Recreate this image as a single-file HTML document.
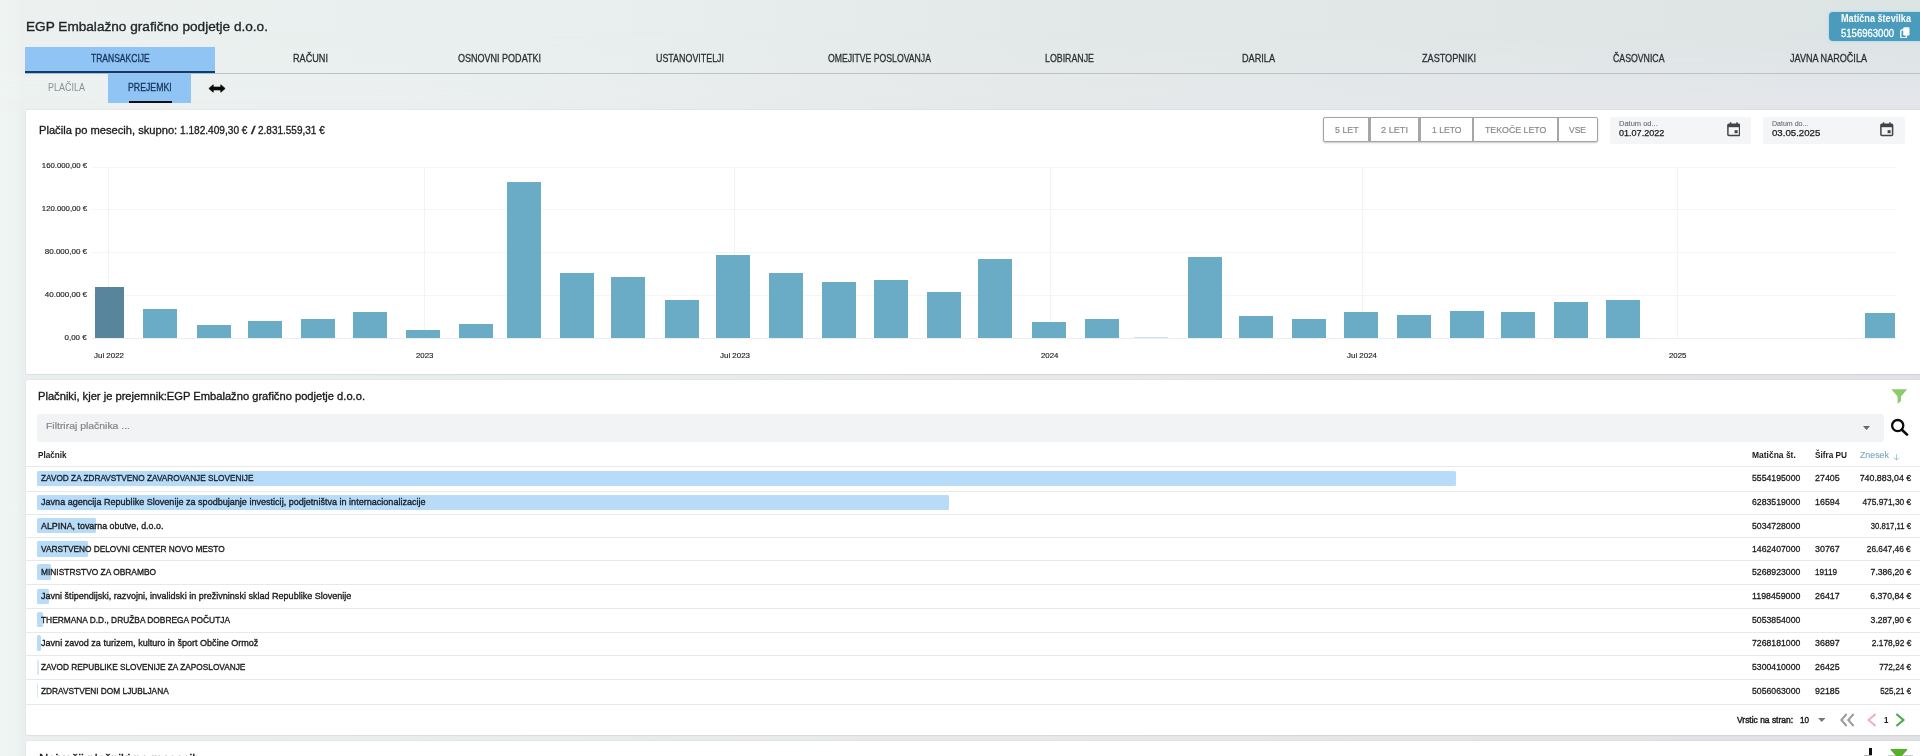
<!DOCTYPE html>
<html lang="sl"><head><meta charset="utf-8"><title>EGP Embalažno grafično podjetje d.o.o.</title>
<style>
html,body{margin:0;padding:0;}
body{width:1920px;height:756px;overflow:hidden;position:relative;font-family:'Liberation Sans', sans-serif;background:linear-gradient(90deg,#eff5f3 0px,#eef4f2 15px,#ebefef 22px,#ebeeee 300px,#e6e8e9 1100px,#e1e2e5 1920px);}
.t{position:absolute;white-space:pre;font-family:'Liberation Sans', sans-serif;}

</style></head><body>
<div style="position:absolute;left:0;top:0;width:1920px;height:112px;background:linear-gradient(90deg,#eff4f3 0px,#eef3f2 14px,#ecf1f0 20px,#e9efee 550px,#e2e8e7 1150px,#dde4e4 1920px)"></div>
<div style="position:absolute;left:0;top:0;width:1920px;height:112px;background:linear-gradient(90deg,#eff4f3 0px,#eef3f2 14px,#ecf1f0 20px,#ebefef 400px,#e6e9ea 1000px,#e3e5ea 1920px);-webkit-mask-image:linear-gradient(180deg,rgba(0,0,0,0) 30px,#000 100px);mask-image:linear-gradient(180deg,rgba(0,0,0,0) 30px,#000 100px)"></div>
<div style="position:absolute;left:1828.6px;top:11.6px;width:100px;height:29.1px;background:#4b9cbc;border-radius:4px;box-shadow:0 0 3px rgba(120,200,240,.6);"></div>
<svg style="position:absolute;left:1900px;top:26.5px" width="10" height="11.5" viewBox="0 0 10 11.5"><rect x="3.2" y="0.3" width="6.3" height="8.2" rx="1.2" fill="#fff"/><rect x="0.8" y="2.8" width="5.6" height="8" rx="1" fill="none" stroke="#fff" stroke-width="1.3"/></svg>
<div style="position:absolute;left:25.4px;top:72.6px;width:1900px;height:1.3px;background:#bcc1c4;"></div>
<div style="position:absolute;left:25.4px;top:47px;width:190px;height:26.6px;background:#90c4f4;"></div>
<div style="position:absolute;left:25.4px;top:71.3px;width:190px;height:2.2px;background:#1d3a5c;"></div>
<div style="position:absolute;left:108.2px;top:74px;width:82.8px;height:29px;background:#90c4f4;"></div>
<div style="position:absolute;left:129px;top:100.6px;width:43px;height:2.4px;background:#0d0f14;"></div>
<svg style="position:absolute;left:208.4px;top:83.9px" width="18" height="9" viewBox="0 0 18 9"><path d="M0.9 4.5 L5.2 0.8 L5.2 3.1 L12.8 3.1 L12.8 0.8 L17.1 4.5 L12.8 8.2 L12.8 5.9 L5.2 5.9 L5.2 8.2 Z" fill="#0a0a0a" stroke="#0a0a0a" stroke-width="0.8" stroke-linejoin="round"/></svg>
<div style="position:absolute;left:26px;top:109.5px;width:1910px;height:264px;background:#fff;box-shadow:0 0 2px rgba(0,0,0,.10),0 1px 1px rgba(0,0,0,.04);border-radius:2px;"></div>
<div style="position:absolute;left:1322.5px;top:117px;width:275px;height:25px;background:#fff;box-sizing:border-box;border:1.3px solid #a3a3a3;border-radius:2px;box-shadow:0 1px 2px rgba(0,0,0,.22);"></div>
<div style="position:absolute;left:1368.4px;top:117px;width:2.2px;height:25px;background:#a6a6a6;"></div>
<div style="position:absolute;left:1418.4px;top:117px;width:2.2px;height:25px;background:#a6a6a6;"></div>
<div style="position:absolute;left:1471.7px;top:117px;width:2.2px;height:25px;background:#a6a6a6;"></div>
<div style="position:absolute;left:1557.2px;top:117px;width:2.2px;height:25px;background:#a6a6a6;"></div>
<div style="position:absolute;left:1610.3px;top:116.7px;width:140.9000000000001px;height:27.5px;background:#f4f5f6;border-radius:2px;"></div>
<svg style="position:absolute;left:1726.7px;top:122px" width="13.5" height="14.5" viewBox="0 0 13.5 14.5"><rect x="0.9" y="2.2" width="11.7" height="11.4" rx="1" fill="none" stroke="#444" stroke-width="1.5"/><rect x="0.9" y="2.2" width="11.7" height="3" fill="#444"/><rect x="2.8" y="0.3" width="1.5" height="2.5" fill="#444"/><rect x="9.2" y="0.3" width="1.5" height="2.5" fill="#444"/><rect x="7.6" y="8.2" width="3" height="3" fill="#444"/></svg>
<div style="position:absolute;left:1762.5px;top:116.7px;width:142.5px;height:27.5px;background:#f4f5f6;border-radius:2px;"></div>
<svg style="position:absolute;left:1880px;top:122px" width="13.5" height="14.5" viewBox="0 0 13.5 14.5"><rect x="0.9" y="2.2" width="11.7" height="11.4" rx="1" fill="none" stroke="#444" stroke-width="1.5"/><rect x="0.9" y="2.2" width="11.7" height="3" fill="#444"/><rect x="2.8" y="0.3" width="1.5" height="2.5" fill="#444"/><rect x="9.2" y="0.3" width="1.5" height="2.5" fill="#444"/><rect x="7.6" y="8.2" width="3" height="3" fill="#444"/></svg>
<div style="position:absolute;left:92px;top:166.5px;width:1805px;height:1px;background:#f4f5f8;"></div>
<div style="position:absolute;left:92px;top:208.5px;width:1805px;height:1px;background:#f4f5f8;"></div>
<div style="position:absolute;left:92px;top:251.5px;width:1805px;height:1px;background:#f4f5f8;"></div>
<div style="position:absolute;left:92px;top:294.5px;width:1805px;height:1px;background:#f4f5f8;"></div>
<div style="position:absolute;left:92px;top:337.5px;width:1805px;height:1px;background:#ebedf0;"></div>
<div style="position:absolute;left:107.5px;top:166.6px;width:1px;height:172px;background:#f2f3f7;"></div>
<div style="position:absolute;left:423.5px;top:166.6px;width:1px;height:172px;background:#f2f3f7;"></div>
<div style="position:absolute;left:733.5px;top:166.6px;width:1px;height:172px;background:#f2f3f7;"></div>
<div style="position:absolute;left:1049.5px;top:166.6px;width:1px;height:172px;background:#f2f3f7;"></div>
<div style="position:absolute;left:1361.5px;top:166.6px;width:1px;height:172px;background:#f2f3f7;"></div>
<div style="position:absolute;left:1676.5px;top:166.6px;width:1px;height:172px;background:#f2f3f7;"></div>
<div style="position:absolute;left:95px;top:287.4px;width:29.2px;height:50.8px;background:#58849c;"></div>
<div style="position:absolute;left:143.3px;top:308.7px;width:34.0px;height:29.5px;background:#6aabc5;"></div>
<div style="position:absolute;left:196.5px;top:324.7px;width:34.0px;height:13.5px;background:#6aabc5;"></div>
<div style="position:absolute;left:247.9px;top:320.6px;width:34.0px;height:17.6px;background:#6aabc5;"></div>
<div style="position:absolute;left:301.1px;top:318.9px;width:34.0px;height:19.3px;background:#6aabc5;"></div>
<div style="position:absolute;left:352.5px;top:311.9px;width:34.0px;height:26.3px;background:#6aabc5;"></div>
<div style="position:absolute;left:405.7px;top:329.6px;width:34.0px;height:8.6px;background:#6aabc5;"></div>
<div style="position:absolute;left:458.8px;top:324.1px;width:34.0px;height:14.1px;background:#6aabc5;"></div>
<div style="position:absolute;left:506.8px;top:182px;width:34.0px;height:156.2px;background:#6aabc5;"></div>
<div style="position:absolute;left:560.0px;top:272.9px;width:34.0px;height:65.3px;background:#6aabc5;"></div>
<div style="position:absolute;left:611.4px;top:277.2px;width:34.0px;height:61.0px;background:#6aabc5;"></div>
<div style="position:absolute;left:664.6px;top:300px;width:34.0px;height:38.2px;background:#6aabc5;"></div>
<div style="position:absolute;left:716.0px;top:254.8px;width:34.0px;height:83.4px;background:#6aabc5;"></div>
<div style="position:absolute;left:769.1px;top:273.1px;width:34.0px;height:65.1px;background:#6aabc5;"></div>
<div style="position:absolute;left:822.3px;top:282.2px;width:34.0px;height:56.0px;background:#6aabc5;"></div>
<div style="position:absolute;left:873.7px;top:280.1px;width:34.0px;height:58.1px;background:#6aabc5;"></div>
<div style="position:absolute;left:926.9px;top:291.8px;width:34.0px;height:46.4px;background:#6aabc5;"></div>
<div style="position:absolute;left:978.3px;top:258.9px;width:34.0px;height:79.3px;background:#6aabc5;"></div>
<div style="position:absolute;left:1031.5px;top:321.8px;width:34.0px;height:16.4px;background:#6aabc5;"></div>
<div style="position:absolute;left:1084.6px;top:319.1px;width:34.0px;height:19.1px;background:#6aabc5;"></div>
<div style="position:absolute;left:1134.3px;top:337.4px;width:34.0px;height:0.8px;background:#cfe3ec;"></div>
<div style="position:absolute;left:1187.5px;top:257.1px;width:34.0px;height:81.1px;background:#6aabc5;"></div>
<div style="position:absolute;left:1238.9px;top:316.2px;width:34.0px;height:22.0px;background:#6aabc5;"></div>
<div style="position:absolute;left:1292.1px;top:318.6px;width:34.0px;height:19.6px;background:#6aabc5;"></div>
<div style="position:absolute;left:1343.5px;top:312.2px;width:34.0px;height:26.0px;background:#6aabc5;"></div>
<div style="position:absolute;left:1396.6px;top:315.1px;width:34.0px;height:23.1px;background:#6aabc5;"></div>
<div style="position:absolute;left:1449.8px;top:311.2px;width:34.0px;height:27.0px;background:#6aabc5;"></div>
<div style="position:absolute;left:1501.2px;top:311.8px;width:34.0px;height:26.4px;background:#6aabc5;"></div>
<div style="position:absolute;left:1554.4px;top:302.2px;width:34.0px;height:36.0px;background:#6aabc5;"></div>
<div style="position:absolute;left:1605.8px;top:299.9px;width:34.0px;height:38.3px;background:#6aabc5;"></div>
<div style="position:absolute;left:1864.7px;top:313px;width:30.6px;height:25.2px;background:#6aabc5;"></div>
<div style="position:absolute;left:26px;top:380px;width:1910px;height:355.3px;background:#fff;box-shadow:0 0 2px rgba(0,0,0,.10),0 1px 1px rgba(0,0,0,.04);border-radius:2px;"></div>
<svg style="position:absolute;left:1891px;top:388.8px" width="16.5" height="15" viewBox="0 0 16.5 15"><path d="M0.3 0.3 H16.2 L10 7.6 V12 L6.6 14.8 V7.6 Z" fill="#8ccc68"/></svg>
<div style="position:absolute;left:37px;top:414px;width:1847px;height:27.7px;background:#f2f3f5;border-radius:3px;"></div>
<svg style="position:absolute;left:1862.5px;top:425.5px" width="7" height="4" viewBox="0 0 7 4"><path d="M0 0H7L3.5 4Z" fill="#666"/></svg>
<svg style="position:absolute;left:1890px;top:417.8px" width="19" height="18" viewBox="0 0 19 18"><circle cx="7.7" cy="7.6" r="5.6" fill="none" stroke="#0a0a0a" stroke-width="2.3"/><path d="M11.9 11.8 L17 16.6" stroke="#0a0a0a" stroke-width="2.6" stroke-linecap="round"/></svg>
<svg style="position:absolute;left:1892.5px;top:454px" width="7" height="7" viewBox="0 0 7 7"><path d="M3.5 0.3V6M0.8 3.5L3.5 6.1L6.2 3.5" fill="none" stroke="#a3c6d8" stroke-width="1"/></svg>
<div style="position:absolute;left:26px;top:466px;width:1900px;height:1px;background:#e6e8eb;"></div>
<div style="position:absolute;left:26px;top:491px;width:1900px;height:1px;background:#e6e8eb;"></div>
<div style="position:absolute;left:26px;top:514px;width:1900px;height:1px;background:#e6e8eb;"></div>
<div style="position:absolute;left:26px;top:537px;width:1900px;height:1px;background:#e6e8eb;"></div>
<div style="position:absolute;left:26px;top:560px;width:1900px;height:1px;background:#e6e8eb;"></div>
<div style="position:absolute;left:26px;top:584px;width:1900px;height:1px;background:#e6e8eb;"></div>
<div style="position:absolute;left:26px;top:608px;width:1900px;height:1px;background:#e6e8eb;"></div>
<div style="position:absolute;left:26px;top:632px;width:1900px;height:1px;background:#e6e8eb;"></div>
<div style="position:absolute;left:26px;top:655px;width:1900px;height:1px;background:#e6e8eb;"></div>
<div style="position:absolute;left:26px;top:679px;width:1900px;height:1px;background:#e6e8eb;"></div>
<div style="position:absolute;left:26px;top:704px;width:1900px;height:1px;background:#e6e8eb;"></div>
<div style="position:absolute;left:37.2px;top:470.7px;width:1419.0px;height:15.4px;background:#b8dbf8;border-radius:1.5px;"></div>
<div style="position:absolute;left:37.2px;top:494.5px;width:911.6px;height:15.4px;background:#b8dbf8;border-radius:1.5px;"></div>
<div style="position:absolute;left:37.2px;top:517.9px;width:59.0px;height:15.4px;background:#b8dbf8;border-radius:1.5px;"></div>
<div style="position:absolute;left:37.2px;top:541.3px;width:51.0px;height:15.4px;background:#b8dbf8;border-radius:1.5px;"></div>
<div style="position:absolute;left:37.2px;top:564.1999999999999px;width:14.1px;height:15.4px;background:#b8dbf8;border-radius:1.5px;"></div>
<div style="position:absolute;left:37.2px;top:588.5px;width:12.2px;height:15.4px;background:#b8dbf8;border-radius:1.5px;"></div>
<div style="position:absolute;left:37.2px;top:612.0999999999999px;width:6.3px;height:15.4px;background:#b8dbf8;border-radius:1.5px;"></div>
<div style="position:absolute;left:37.2px;top:635.4px;width:4.2px;height:15.4px;background:#b8dbf8;border-radius:1.5px;"></div>
<div style="position:absolute;left:37.2px;top:659.6999999999999px;width:1.5px;height:15.4px;background:#d5e9f9;border-radius:1.5px;"></div>
<div style="position:absolute;left:37.2px;top:682.9px;width:1.2px;height:15.4px;background:#d5e9f9;border-radius:1.5px;"></div>
<svg style="position:absolute;left:1817.5px;top:717.8px" width="7.5" height="4" viewBox="0 0 7.5 4"><path d="M0 0H7.5L3.75 4Z" fill="#777"/></svg>
<svg style="position:absolute;left:1839.6px;top:713px" width="15" height="14" viewBox="0 0 15 14"><path d="M6.6 1L1.3 7L6.6 13M13.6 1L8.3 7L13.6 13" fill="none" stroke="#9c9c9c" stroke-width="2"/></svg>
<svg style="position:absolute;left:1867px;top:713px" width="10" height="14" viewBox="0 0 10 14"><path d="M8.6 1L1.6 7L8.6 13" fill="none" stroke="#f2adb6" stroke-width="1.9"/></svg>
<svg style="position:absolute;left:1895.4px;top:713px" width="10" height="14" viewBox="0 0 10 14"><path d="M1.4 1L8.4 7L1.4 13" fill="none" stroke="#4aa84a" stroke-width="2.1"/></svg>
<div style="position:absolute;left:26px;top:741.3px;width:1910px;height:40px;background:#fff;box-shadow:0 0 2px rgba(0,0,0,.10),0 1px 1px rgba(0,0,0,.04);border-radius:2px;"></div>
<div style="position:absolute;left:1869.2px;top:748.1px;width:2.7px;height:8px;background:#111;"></div>
<div style="position:absolute;left:1864px;top:754.5px;width:8px;height:1.5px;background:#b4b4b4;"></div>
<div style="position:absolute;left:1887.5px;top:754.6px;width:25px;height:1.4px;background:#c8cbc8;"></div>
<svg style="position:absolute;left:1890.4px;top:749.3px" width="17.8" height="16" viewBox="0 0 17.8 16"><path d="M1.2 0 H16.6 Q17.8 0 17.2 1 L10.8 8 V13 L7 15.8 V8 L0.6 1 Q0 0 1.2 0 Z" fill="#55b02a"/></svg>
<span class="t" style="font-size:13.4px;line-height:15.397px;color:#1f2326;top:19.00px;-webkit-text-stroke:0.35px #1f2326;left:25.70px;transform-origin:0 0;transform:scaleX(1.0169);">EGP Embalažno grafično podjetje d.o.o.</span>
<span class="t" style="font-size:10.2px;line-height:11.72px;color:#fff;top:13.00px;font-weight:bold;left:1841.00px;transform-origin:0 0;transform:scaleX(0.8956);">Matična številka</span>
<span class="t" style="font-size:10.2px;line-height:11.72px;color:#fff;top:28.00px;-webkit-text-stroke:0.3px #fff;left:1841.00px;transform-origin:0 0;transform:scaleX(0.9352);">5156963000</span>
<span class="t" style="font-size:11.8px;line-height:13.558px;color:#16325a;top:52.00px;-webkit-text-stroke:0.35px #16325a;left:90.95px;transform-origin:0 0;transform:scaleX(0.7220);">TRANSAKCIJE</span>
<span class="t" style="font-size:11.8px;line-height:13.558px;color:#2a2e31;top:52.00px;-webkit-text-stroke:0.3px #2a2e31;left:292.55px;transform-origin:0 0;transform:scaleX(0.7737);">RAČUNI</span>
<span class="t" style="font-size:11.8px;line-height:13.558px;color:#2a2e31;top:52.00px;-webkit-text-stroke:0.3px #2a2e31;left:458.30px;transform-origin:0 0;transform:scaleX(0.7643);">OSNOVNI PODATKI</span>
<span class="t" style="font-size:11.8px;line-height:13.558px;color:#2a2e31;top:52.00px;-webkit-text-stroke:0.3px #2a2e31;left:655.55px;transform-origin:0 0;transform:scaleX(0.7535);">USTANOVITELJI</span>
<span class="t" style="font-size:11.8px;line-height:13.558px;color:#2a2e31;top:52.00px;-webkit-text-stroke:0.3px #2a2e31;left:827.80px;transform-origin:0 0;transform:scaleX(0.7353);">OMEJITVE POSLOVANJA</span>
<span class="t" style="font-size:11.8px;line-height:13.558px;color:#2a2e31;top:52.00px;-webkit-text-stroke:0.3px #2a2e31;left:1044.55px;transform-origin:0 0;transform:scaleX(0.7474);">LOBIRANJE</span>
<span class="t" style="font-size:11.8px;line-height:13.558px;color:#2a2e31;top:52.00px;-webkit-text-stroke:0.3px #2a2e31;left:1242.30px;transform-origin:0 0;transform:scaleX(0.7742);">DARILA</span>
<span class="t" style="font-size:11.8px;line-height:13.558px;color:#2a2e31;top:52.00px;-webkit-text-stroke:0.3px #2a2e31;left:1421.55px;transform-origin:0 0;transform:scaleX(0.7721);">ZASTOPNIKI</span>
<span class="t" style="font-size:11.8px;line-height:13.558px;color:#2a2e31;top:52.00px;-webkit-text-stroke:0.3px #2a2e31;left:1612.55px;transform-origin:0 0;transform:scaleX(0.7410);">ČASOVNICA</span>
<span class="t" style="font-size:11.8px;line-height:13.558px;color:#2a2e31;top:52.00px;-webkit-text-stroke:0.3px #2a2e31;left:1789.55px;transform-origin:0 0;transform:scaleX(0.7693);">JAVNA NAROČILA</span>
<span class="t" style="font-size:10.3px;line-height:11.835px;color:#8b9196;top:82.00px;left:48.40px;transform-origin:0 0;transform:scaleX(0.8735);">PLAČILA</span>
<span class="t" style="font-size:10.3px;line-height:11.835px;color:#16325a;top:82.00px;-webkit-text-stroke:0.3px #16325a;left:128.30px;transform-origin:0 0;transform:scaleX(0.8485);">PREJEMKI</span>
<span class="t" style="font-size:10.3px;line-height:11.835px;color:#1a1a1a;top:125.00px;-webkit-text-stroke:0.3px #1a1a1a;left:38.80px;transform-origin:0 0;transform:scaleX(1.0827);">Plačila po mesecih, skupno:</span>
<span class="t" style="font-size:10.3px;line-height:11.835px;color:#1a1a1a;top:125.00px;-webkit-text-stroke:0.3px #1a1a1a;left:180.00px;transform-origin:0 0;transform:scaleX(0.9823);">1.182.409,30 €</span>
<span class="t" style="font-size:10.3px;line-height:11.835px;color:#1a1a1a;top:125.00px;-webkit-text-stroke:0.3px #1a1a1a;left:251.30px;transform-origin:0 0;transform:scaleX(1.5652);">/</span>
<span class="t" style="font-size:10.3px;line-height:11.835px;color:#1a1a1a;top:125.00px;-webkit-text-stroke:0.3px #1a1a1a;left:258.30px;transform-origin:0 0;transform:scaleX(0.9706);">2.831.559,31 €</span>
<span class="t" style="font-size:9.8px;line-height:11.26px;color:#8a8a8a;top:124.00px;-webkit-text-stroke:0.2px #8a8a8a;left:1334.70px;transform-origin:0 0;transform:scaleX(0.9028);">5 LET</span>
<span class="t" style="font-size:9.8px;line-height:11.26px;color:#8a8a8a;top:124.00px;-webkit-text-stroke:0.2px #8a8a8a;left:1381.30px;transform-origin:0 0;transform:scaleX(0.9351);">2 LETI</span>
<span class="t" style="font-size:9.8px;line-height:11.26px;color:#8a8a8a;top:124.00px;-webkit-text-stroke:0.2px #8a8a8a;left:1431.70px;transform-origin:0 0;transform:scaleX(0.8781);">1 LETO</span>
<span class="t" style="font-size:9.8px;line-height:11.26px;color:#8a8a8a;top:124.00px;-webkit-text-stroke:0.2px #8a8a8a;left:1485.00px;transform-origin:0 0;transform:scaleX(0.8959);">TEKOČE LETO</span>
<span class="t" style="font-size:9.8px;line-height:11.26px;color:#8a8a8a;top:124.00px;-webkit-text-stroke:0.2px #8a8a8a;left:1568.80px;transform-origin:0 0;transform:scaleX(0.8669);">VSE</span>
<span class="t" style="font-size:7.2px;line-height:8.273px;color:#6a6a6a;top:120.00px;-webkit-text-stroke:0.1px #6a6a6a;left:1618.90px;transform-origin:0 0;transform:scaleX(1.0442);">Datum od...</span>
<span class="t" style="font-size:9.2px;line-height:10.571px;color:#1a1a1a;top:128.00px;-webkit-text-stroke:0.25px #1a1a1a;left:1618.50px;transform-origin:0 0;transform:scaleX(0.9851);">01.07.2022</span>
<span class="t" style="font-size:7.2px;line-height:8.273px;color:#6a6a6a;top:120.00px;-webkit-text-stroke:0.1px #6a6a6a;left:1771.80px;transform-origin:0 0;transform:scaleX(0.9770);">Datum do...</span>
<span class="t" style="font-size:9.2px;line-height:10.571px;color:#1a1a1a;top:128.00px;-webkit-text-stroke:0.25px #1a1a1a;left:1771.60px;transform-origin:0 0;transform:scaleX(1.0504);">03.05.2025</span>
<span class="t" style="font-size:7.4px;line-height:8.503px;color:#222;top:162.00px;-webkit-text-stroke:0.15px #222;right:1833.00px;transform-origin:100% 0;transform:scaleX(1.0497);">160.000,00 €</span>
<span class="t" style="font-size:7.4px;line-height:8.503px;color:#222;top:205.00px;-webkit-text-stroke:0.15px #222;right:1833.00px;transform-origin:100% 0;transform:scaleX(1.0497);">120.000,00 €</span>
<span class="t" style="font-size:7.4px;line-height:8.503px;color:#222;top:248.00px;-webkit-text-stroke:0.15px #222;right:1833.00px;transform-origin:100% 0;transform:scaleX(1.0833);">80.000,00 €</span>
<span class="t" style="font-size:7.4px;line-height:8.503px;color:#222;top:291.00px;-webkit-text-stroke:0.15px #222;right:1833.00px;transform-origin:100% 0;transform:scaleX(1.0833);">40.000,00 €</span>
<span class="t" style="font-size:7.4px;line-height:8.503px;color:#222;top:334.00px;-webkit-text-stroke:0.15px #222;right:1833.00px;transform-origin:100% 0;transform:scaleX(1.0699);">0,00 €</span>
<span class="t" style="font-size:7.6px;line-height:8.732px;color:#222;top:352.00px;-webkit-text-stroke:0.15px #222;left:93.90px;transform-origin:0 0;transform:scaleX(1.0446);">Jul 2022</span>
<span class="t" style="font-size:7.6px;line-height:8.732px;color:#222;top:352.00px;-webkit-text-stroke:0.15px #222;left:415.62px;transform-origin:0 0;transform:scaleX(1.0351);">2023</span>
<span class="t" style="font-size:7.6px;line-height:8.732px;color:#222;top:352.00px;-webkit-text-stroke:0.15px #222;left:719.69px;transform-origin:0 0;transform:scaleX(1.0446);">Jul 2023</span>
<span class="t" style="font-size:7.6px;line-height:8.732px;color:#222;top:352.00px;-webkit-text-stroke:0.15px #222;left:1041.41px;transform-origin:0 0;transform:scaleX(1.0351);">2024</span>
<span class="t" style="font-size:7.6px;line-height:8.732px;color:#222;top:352.00px;-webkit-text-stroke:0.15px #222;left:1347.20px;transform-origin:0 0;transform:scaleX(1.0446);">Jul 2024</span>
<span class="t" style="font-size:7.6px;line-height:8.732px;color:#222;top:352.00px;-webkit-text-stroke:0.15px #222;left:1668.92px;transform-origin:0 0;transform:scaleX(1.0351);">2025</span>
<span class="t" style="font-size:11.8px;line-height:13.558px;color:#1a1a1a;top:390.00px;-webkit-text-stroke:0.35px #1a1a1a;left:38.00px;transform-origin:0 0;transform:scaleX(0.9450);">Plačniki, kjer je prejemnik:EGP Embalažno grafično podjetje d.o.o.</span>
<span class="t" style="font-size:9.8px;line-height:11.26px;color:#868686;top:420.00px;-webkit-text-stroke:0.2px #868686;left:46.30px;transform-origin:0 0;transform:scaleX(1.0639);">Filtriraj plačnika ...</span>
<span class="t" style="font-size:8.6px;line-height:9.881px;color:#1a1a1a;top:451.00px;font-weight:bold;left:38.00px;transform-origin:0 0;transform:scaleX(0.9465);">Plačnik</span>
<span class="t" style="font-size:8.6px;line-height:9.881px;color:#1a1a1a;top:451.00px;font-weight:bold;left:1752.20px;transform-origin:0 0;transform:scaleX(0.9860);">Matična št.</span>
<span class="t" style="font-size:8.6px;line-height:9.881px;color:#1a1a1a;top:451.00px;font-weight:bold;left:1815.30px;transform-origin:0 0;transform:scaleX(0.9570);">Šifra PU</span>
<span class="t" style="font-size:8.6px;line-height:9.881px;color:#83a9c2;top:451.00px;-webkit-text-stroke:0.15px #83a9c2;left:1859.50px;transform-origin:0 0;transform:scaleX(1.0217);">Znesek</span>
<span class="t" style="font-size:9.7px;line-height:11.145px;color:#14202c;top:472.00px;-webkit-text-stroke:0.35px #14202c;left:41.30px;transform-origin:0 0;transform:scaleX(0.8516);">ZAVOD ZA ZDRAVSTVENO ZAVAROVANJE SLOVENIJE</span>
<span class="t" style="font-size:9.8px;line-height:11.26px;color:#1a1a1a;top:472.00px;-webkit-text-stroke:0.3px #1a1a1a;left:1752.20px;transform-origin:0 0;transform:scaleX(0.8862);">5554195000</span>
<span class="t" style="font-size:9.8px;line-height:11.26px;color:#1a1a1a;top:472.00px;-webkit-text-stroke:0.3px #1a1a1a;left:1815.30px;transform-origin:0 0;transform:scaleX(0.9064);">27405</span>
<span class="t" style="font-size:9.8px;line-height:11.26px;color:#1a1a1a;top:472.00px;-webkit-text-stroke:0.3px #1a1a1a;right:9.00px;transform-origin:100% 0;transform:scaleX(0.9003);">740.883,04 €</span>
<span class="t" style="font-size:9.7px;line-height:11.145px;color:#14202c;top:496.00px;-webkit-text-stroke:0.35px #14202c;left:41.30px;transform-origin:0 0;transform:scaleX(0.9348);">Javna agencija Republike Slovenije za spodbujanje investicij, podjetništva in internacionalizacije</span>
<span class="t" style="font-size:9.8px;line-height:11.26px;color:#1a1a1a;top:496.00px;-webkit-text-stroke:0.3px #1a1a1a;left:1752.20px;transform-origin:0 0;transform:scaleX(0.8862);">6283519000</span>
<span class="t" style="font-size:9.8px;line-height:11.26px;color:#1a1a1a;top:496.00px;-webkit-text-stroke:0.3px #1a1a1a;left:1815.30px;transform-origin:0 0;transform:scaleX(0.9064);">16594</span>
<span class="t" style="font-size:9.8px;line-height:11.26px;color:#1a1a1a;top:496.00px;-webkit-text-stroke:0.3px #1a1a1a;right:9.00px;transform-origin:100% 0;transform:scaleX(0.8531);">475.971,30 €</span>
<span class="t" style="font-size:9.7px;line-height:11.145px;color:#1a1a1a;top:520.00px;-webkit-text-stroke:0.35px #1a1a1a;left:41.30px;transform-origin:0 0;transform:scaleX(0.9164);">ALPINA, tovarna obutve, d.o.o.</span>
<span class="t" style="font-size:9.8px;line-height:11.26px;color:#1a1a1a;top:520.00px;-webkit-text-stroke:0.3px #1a1a1a;left:1752.20px;transform-origin:0 0;transform:scaleX(0.8862);">5034728000</span>
<span class="t" style="font-size:9.8px;line-height:11.26px;color:#1a1a1a;top:520.00px;-webkit-text-stroke:0.3px #1a1a1a;right:9.00px;transform-origin:100% 0;transform:scaleX(0.7897);">30.817,11 €</span>
<span class="t" style="font-size:9.7px;line-height:11.145px;color:#1a1a1a;top:543.00px;-webkit-text-stroke:0.35px #1a1a1a;left:41.30px;transform-origin:0 0;transform:scaleX(0.8545);">VARSTVENO DELOVNI CENTER NOVO MESTO</span>
<span class="t" style="font-size:9.8px;line-height:11.26px;color:#1a1a1a;top:543.00px;-webkit-text-stroke:0.3px #1a1a1a;left:1752.20px;transform-origin:0 0;transform:scaleX(0.8862);">1462407000</span>
<span class="t" style="font-size:9.8px;line-height:11.26px;color:#1a1a1a;top:543.00px;-webkit-text-stroke:0.3px #1a1a1a;left:1815.30px;transform-origin:0 0;transform:scaleX(0.9064);">30767</span>
<span class="t" style="font-size:9.8px;line-height:11.26px;color:#1a1a1a;top:543.00px;-webkit-text-stroke:0.3px #1a1a1a;right:9.00px;transform-origin:100% 0;transform:scaleX(0.8500);">26.647,46 €</span>
<span class="t" style="font-size:9.7px;line-height:11.145px;color:#1a1a1a;top:566.00px;-webkit-text-stroke:0.35px #1a1a1a;left:41.30px;transform-origin:0 0;transform:scaleX(0.8650);">MINISTRSTVO ZA OBRAMBO</span>
<span class="t" style="font-size:9.8px;line-height:11.26px;color:#1a1a1a;top:566.00px;-webkit-text-stroke:0.3px #1a1a1a;left:1752.20px;transform-origin:0 0;transform:scaleX(0.8862);">5268923000</span>
<span class="t" style="font-size:9.8px;line-height:11.26px;color:#1a1a1a;top:566.00px;-webkit-text-stroke:0.3px #1a1a1a;left:1815.30px;transform-origin:0 0;transform:scaleX(0.8297);">19119</span>
<span class="t" style="font-size:9.8px;line-height:11.26px;color:#1a1a1a;top:566.00px;-webkit-text-stroke:0.3px #1a1a1a;right:9.00px;transform-origin:100% 0;transform:scaleX(0.8788);">7.386,20 €</span>
<span class="t" style="font-size:9.7px;line-height:11.145px;color:#1a1a1a;top:590.00px;-webkit-text-stroke:0.35px #1a1a1a;left:41.30px;transform-origin:0 0;transform:scaleX(0.9328);">Javni štipendijski, razvojni, invalidski in preživninski sklad Republike Slovenije</span>
<span class="t" style="font-size:9.8px;line-height:11.26px;color:#1a1a1a;top:590.00px;-webkit-text-stroke:0.3px #1a1a1a;left:1752.20px;transform-origin:0 0;transform:scaleX(0.8983);">1198459000</span>
<span class="t" style="font-size:9.8px;line-height:11.26px;color:#1a1a1a;top:590.00px;-webkit-text-stroke:0.3px #1a1a1a;left:1815.30px;transform-origin:0 0;transform:scaleX(0.9064);">26417</span>
<span class="t" style="font-size:9.8px;line-height:11.26px;color:#1a1a1a;top:590.00px;-webkit-text-stroke:0.3px #1a1a1a;right:9.00px;transform-origin:100% 0;transform:scaleX(0.8853);">6.370,84 €</span>
<span class="t" style="font-size:9.7px;line-height:11.145px;color:#1a1a1a;top:614.00px;-webkit-text-stroke:0.35px #1a1a1a;left:41.30px;transform-origin:0 0;transform:scaleX(0.8627);">THERMANA D.D., DRUŽBA DOBREGA POČUTJA</span>
<span class="t" style="font-size:9.8px;line-height:11.26px;color:#1a1a1a;top:614.00px;-webkit-text-stroke:0.3px #1a1a1a;left:1752.20px;transform-origin:0 0;transform:scaleX(0.8862);">5053854000</span>
<span class="t" style="font-size:9.8px;line-height:11.26px;color:#1a1a1a;top:614.00px;-webkit-text-stroke:0.3px #1a1a1a;right:9.00px;transform-origin:100% 0;transform:scaleX(0.8788);">3.287,90 €</span>
<span class="t" style="font-size:9.7px;line-height:11.145px;color:#1a1a1a;top:637.00px;-webkit-text-stroke:0.35px #1a1a1a;left:41.30px;transform-origin:0 0;transform:scaleX(0.9347);">Javni zavod za turizem, kulturo in šport Občine Ormož</span>
<span class="t" style="font-size:9.8px;line-height:11.26px;color:#1a1a1a;top:637.00px;-webkit-text-stroke:0.3px #1a1a1a;left:1752.20px;transform-origin:0 0;transform:scaleX(0.8862);">7268181000</span>
<span class="t" style="font-size:9.8px;line-height:11.26px;color:#1a1a1a;top:637.00px;-webkit-text-stroke:0.3px #1a1a1a;left:1815.30px;transform-origin:0 0;transform:scaleX(0.9064);">36897</span>
<span class="t" style="font-size:9.8px;line-height:11.26px;color:#1a1a1a;top:637.00px;-webkit-text-stroke:0.3px #1a1a1a;right:9.00px;transform-origin:100% 0;transform:scaleX(0.8529);">2.178,92 €</span>
<span class="t" style="font-size:9.7px;line-height:11.145px;color:#1a1a1a;top:661.00px;-webkit-text-stroke:0.35px #1a1a1a;left:41.30px;transform-origin:0 0;transform:scaleX(0.8544);">ZAVOD REPUBLIKE SLOVENIJE ZA ZAPOSLOVANJE</span>
<span class="t" style="font-size:9.8px;line-height:11.26px;color:#1a1a1a;top:661.00px;-webkit-text-stroke:0.3px #1a1a1a;left:1752.20px;transform-origin:0 0;transform:scaleX(0.8862);">5300410000</span>
<span class="t" style="font-size:9.8px;line-height:11.26px;color:#1a1a1a;top:661.00px;-webkit-text-stroke:0.3px #1a1a1a;left:1815.30px;transform-origin:0 0;transform:scaleX(0.9064);">26425</span>
<span class="t" style="font-size:9.8px;line-height:11.26px;color:#1a1a1a;top:661.00px;-webkit-text-stroke:0.3px #1a1a1a;right:9.00px;transform-origin:100% 0;transform:scaleX(0.8390);">772,24 €</span>
<span class="t" style="font-size:9.7px;line-height:11.145px;color:#1a1a1a;top:685.00px;-webkit-text-stroke:0.35px #1a1a1a;left:41.30px;transform-origin:0 0;transform:scaleX(0.8574);">ZDRAVSTVENI DOM LJUBLJANA</span>
<span class="t" style="font-size:9.8px;line-height:11.26px;color:#1a1a1a;top:685.00px;-webkit-text-stroke:0.3px #1a1a1a;left:1752.20px;transform-origin:0 0;transform:scaleX(0.8862);">5056063000</span>
<span class="t" style="font-size:9.8px;line-height:11.26px;color:#1a1a1a;top:685.00px;-webkit-text-stroke:0.3px #1a1a1a;left:1815.30px;transform-origin:0 0;transform:scaleX(0.9064);">92185</span>
<span class="t" style="font-size:9.8px;line-height:11.26px;color:#1a1a1a;top:685.00px;-webkit-text-stroke:0.3px #1a1a1a;right:9.00px;transform-origin:100% 0;transform:scaleX(0.8128);">525,21 €</span>
<span class="t" style="font-size:9.2px;line-height:10.571px;color:#1a1a1a;top:715.00px;-webkit-text-stroke:0.45px #1a1a1a;left:1736.90px;transform-origin:0 0;transform:scaleX(0.9190);">Vrstic na stran:</span>
<span class="t" style="font-size:9.2px;line-height:10.571px;color:#1a1a1a;top:715.00px;-webkit-text-stroke:0.4px #1a1a1a;left:1799.60px;transform-origin:0 0;transform:scaleX(0.8794);">10</span>
<span class="t" style="font-size:9.6px;line-height:11.03px;color:#1a1a1a;top:714.00px;font-weight:bold;left:1884.20px;transform-origin:0 0;transform:scaleX(0.8234);">1</span>
<span class="t" style="font-size:11.8px;line-height:13.558px;color:#1a1a1a;top:752.00px;-webkit-text-stroke:0.3px #1a1a1a;left:38.50px;transform-origin:0 0;transform:scaleX(1.0879);">Največji plačniki po mesecih</span>
</body></html>
